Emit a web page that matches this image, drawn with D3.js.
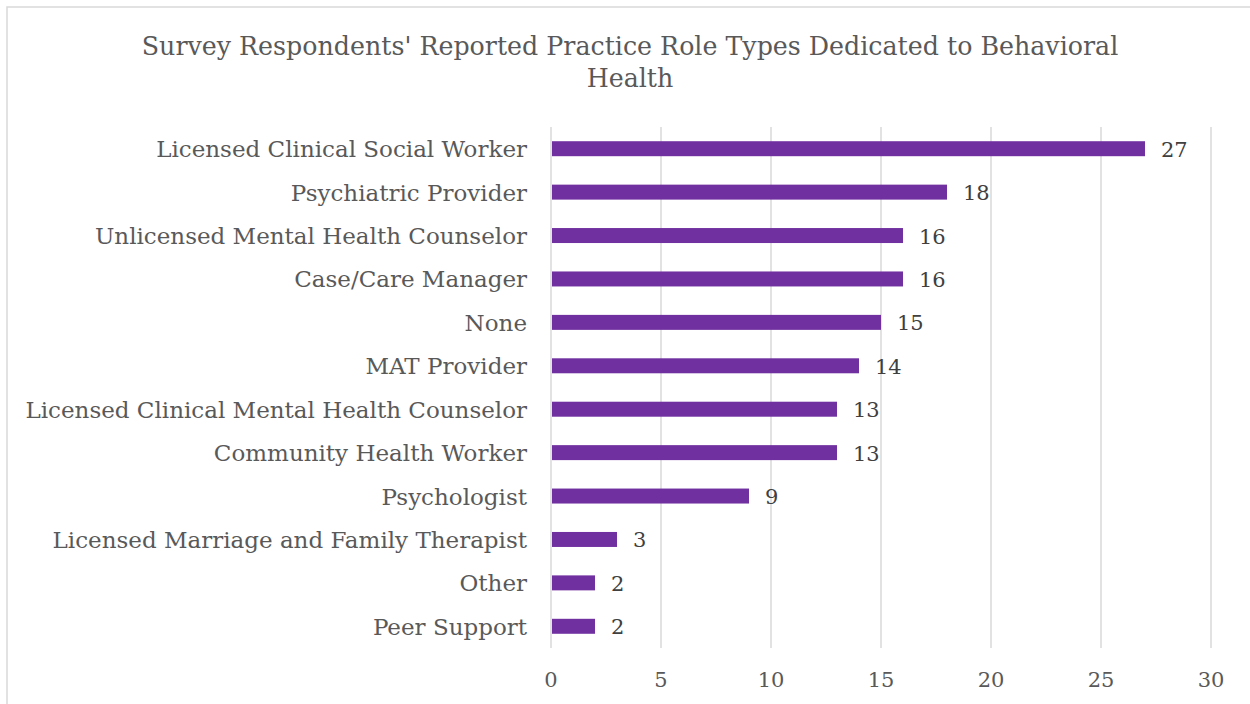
<!DOCTYPE html>
<html><head><meta charset="utf-8">
<script src="https://cdn.jsdelivr.net/npm/d3@7"></script>
<style>html,body{margin:0;padding:0;background:#fff;overflow:hidden}</style>
</head><body>
<svg id="c" width="1250" height="704"></svg>
<script>
const titleLines = ["Survey Respondents' Reported Practice Role Types Dedicated to Behavioral", "Health"];
const categories = ["Licensed Clinical Social Worker","Psychiatric Provider","Unlicensed Mental Health Counselor","Case/Care Manager","None","MAT Provider","Licensed Clinical Mental Health Counselor","Community Health Worker","Psychologist","Licensed Marriage and Family Therapist","Other","Peer Support"];
const values = [27,18,16,16,15,14,13,13,9,3,2,2];
const xTicks = [0,5,10,15,20,25,30];

const FONT = "'DejaVu Serif', serif";
const svg = d3.select("#c");
svg.append("rect").attr("x",7).attr("y",7).attr("width",1260).attr("height",720)
  .attr("fill","#fff").attr("stroke","#d9d9d9").attr("stroke-width",1.5);

const x = d3.scaleLinear().domain([0,30]).range([551,1211]);
const y = d3.scaleBand().domain(categories).range([127,648]).paddingInner(0.655).paddingOuter(0.3275);

svg.append("g").selectAll("line").data(xTicks).join("line")
  .attr("x1",d=>x(d)).attr("x2",d=>x(d)).attr("y1",127).attr("y2",648)
  .attr("stroke","#d9d9d9").attr("stroke-width",1.5);

svg.append("g").selectAll("rect").data(values).join("rect")
  .attr("x",x(0)+1).attr("y",(d,i)=>y(categories[i]))
  .attr("width",d=>x(d)-x(0)-1).attr("height",y.bandwidth())
  .attr("fill","#7030a0");

svg.append("g").selectAll("text").data(values).join("text")
  .attr("x",d=>x(d)+16).attr("y",(d,i)=>y(categories[i])+y.bandwidth()/2+8)
  .attr("font-family",FONT).attr("font-size",21).attr("fill","#404040")
  .text(d=>d);

svg.append("g").selectAll("text").data(categories).join("text")
  .attr("x",527).attr("y",d=>y(d)+y.bandwidth()/2+8.5)
  .attr("text-anchor","end").attr("font-family",FONT).attr("font-size",23).attr("fill","#595959")
  .text(d=>d);

svg.append("g").selectAll("text").data(xTicks).join("text")
  .attr("x",d=>x(d)).attr("y",687).attr("text-anchor","middle")
  .attr("font-family",FONT).attr("font-size",21).attr("fill","#595959")
  .text(d=>d);

svg.append("g").selectAll("text").data(titleLines).join("text")
  .attr("x",630).attr("y",(d,i)=>55+i*32).attr("text-anchor","middle")
  .attr("font-family",FONT).attr("font-size",25.3).attr("fill","#595959")
  .text(d=>d);
</script>
</body></html>
